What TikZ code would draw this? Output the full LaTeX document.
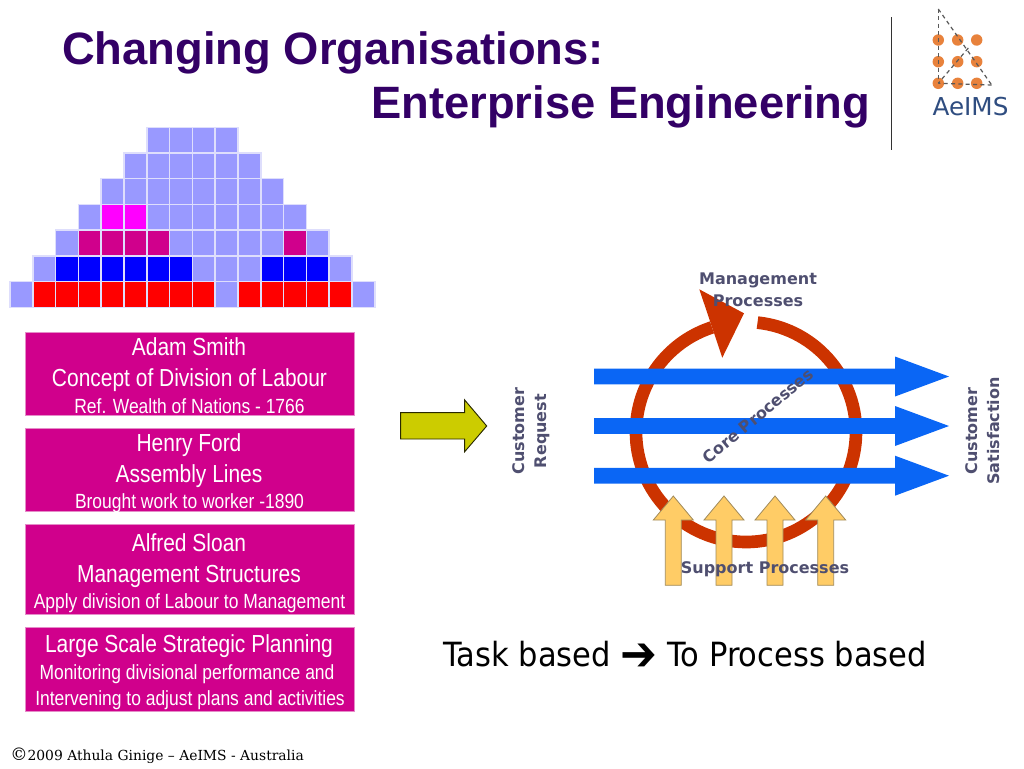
\documentclass[tikz,border=0pt]{standalone}
\usepackage{fontspec}
\setmainfont{Liberation Sans}
\newfontfamily\boxf[FakeStretch=0.85]{Liberation Sans}
\newfontfamily\labf{DejaVu Sans}
\newfontfamily\taskf[FakeStretch=0.916]{DejaVu Sans}
\newfontfamily\footf{DejaVu Serif}
\newfontfamily\logof{DejaVu Sans}
\definecolor{titlec}{HTML}{330066}
\definecolor{gridc}{HTML}{9999FF}
\definecolor{gridl}{HTML}{DEDEFC}
\definecolor{magc}{HTML}{FF00FF}
\definecolor{pinkc}{HTML}{D0008C}
\definecolor{pinkl}{HTML}{E58CC8}
\definecolor{ringc}{HTML}{CC3300}
\definecolor{bluec}{HTML}{0A66F5}
\definecolor{supc}{HTML}{FFCC66}
\definecolor{supl}{HTML}{A08A5A}
\definecolor{labc}{HTML}{4F4F70}
\definecolor{olivec}{HTML}{CCCC00}
\definecolor{dotc}{HTML}{E8823C}
\definecolor{logoc}{HTML}{2F4D80}
\tikzset{
 cell/.style={draw=gridl,line width=1.1pt,fill=#1},
 pinkbox/.style={draw=pinkl,line width=0.6pt,fill=pinkc},
 big/.style={anchor=base,text=white,inner sep=0pt,font=\boxf\fontsize{18.5}{20}\selectfont},
 small/.style={anchor=base,text=white,inner sep=0pt,font=\boxf\fontsize{15.4}{17}\selectfont},
 ttl/.style={anchor=base west,inner sep=0pt,text=titlec,font=\bfseries\fontsize{34}{36}\selectfont},
 lab/.style={inner sep=0pt,text=labc,font=\labf\bfseries\fontsize{12}{16.5}\selectfont,align=center},
 blk/.style={fill=bluec},
 sup/.style={fill=supc,draw=supl,line width=0.6pt},
 dot/.style={circle,fill=dotc,minimum size=8.6pt,inner sep=0pt},
 dsh/.style={draw=black!65,line width=0.9pt,dash pattern=on 3pt off 2.5pt},
}
\begin{document}
\begin{tikzpicture}[x=0.75pt,y=-0.75pt]
\useasboundingbox (0,0) rectangle (1024,768);
% title
\node[ttl] (t1) at (62,64) {Changing Organisations:};
\node[ttl] (t2) at (371,118) {Enterprise Engineering};
\draw[black!80,line width=0.7pt] (891,17) -- (891,150);
% logo
\coordinate (lt) at (938.3,9);
\coordinate (lr) at (991.7,85);
\coordinate (lm) at (968.3,48);
\foreach \x/\i in {938.3/a,957.7/b,976.7/c}
  \foreach \y/\j in {40/1,61.7/2,83.3/3}
    \node[dot] (d\i\j) at (\x,\y) {};
\draw[dsh] (lt) -- (da3.center);
\draw[dsh] (lt) -- (lr);
\draw[dsh] (lr) -- (da3.center);
\draw[dsh] (lm) -- (da3.center);
\node[inner sep=0pt,anchor=base,text=logoc,font=\logof\fontsize{18.5}{20}\selectfont] (logo) at (970.5,115) {AeIMS};
% grid
\foreach \r/\a/\b in {0/6/9,1/5/10,2/4/11,3/3/12,4/2/13,5/1/14,6/0/15}
  \foreach \i in {\a,...,\b}
    \draw[cell=gridc] ({10+22.8*\i},{127.3+25.72*\r}) rectangle ++(22.8,25.72);
\foreach \r/\i/\c in {3/4/magc,3/5/magc,
  4/3/pinkc,4/4/pinkc,4/5/pinkc,4/6/pinkc,4/12/pinkc,
  5/2/blue,5/3/blue,5/4/blue,5/5/blue,5/6/blue,5/7/blue,5/11/blue,5/12/blue,5/13/blue,
  6/1/red,6/2/red,6/3/red,6/4/red,6/5/red,6/6/red,6/7/red,6/8/red,
  6/10/red,6/11/red,6/12/red,6/13/red,6/14/red}
    \draw[cell=\c] ({10+22.8*\i},{127.3+25.72*\r}) rectangle ++(22.8,25.72);
% pink boxes
\draw[pinkbox] (25.7,332.3) rectangle (354,415.3);
\draw[pinkbox] (25.7,428.7) rectangle (354,511.7);
\draw[pinkbox] (25.7,524.7) rectangle (354,614.3);
\draw[pinkbox] (25.7,627.7) rectangle (354,711);
\node[big] (a1) at (189,355.3) {Adam Smith};
\node[big] (a2) at (189.5,386) {Concept of Division of Labour};
\node[small] (a3) at (189.5,413) {Ref. Wealth of Nations - 1766};
\node[big] (b1) at (189,451.7) {Henry Ford};
\node[big] (b2) at (189,482.5) {Assembly Lines};
\node[small] (b3) at (189.5,508.3) {Brought work to worker -1890};
\node[big] (c1) at (189,551.5) {Alfred Sloan};
\node[big] (c2) at (189,582.5) {Management Structures};
\node[small] (c3) at (189.5,608) {Apply division of Labour to Management};
\node[big] (e1) at (189,652.5) {Large Scale Strategic Planning};
\node[small] (e2) at (187,679.7) {Monitoring divisional performance and};
\node[small] (e3) at (190,705) {Intervening to adjust plans and activities};
% olive arrow
\draw[fill=olivec,draw=black!80!olivec,line width=0.7pt] (400.7,412.7) -- (464.7,412.7) -- (464.7,400) -- (486.7,426) -- (464.7,451.7) -- (464.7,439) -- (400.7,439) -- cycle;
% ring
\coordinate (rc) at (746,432);
\draw[ringc,line width=9.5pt] (rc) ++(84:82.5pt) arc[start angle=84,end angle=-252,radius=82.5pt];
\fill[ringc] (699.3,289.3) -- (744,313.3) -- (722.3,357.7) -- cycle;
% blue arrows
\foreach \y in {376.5,426,475.7}
  \fill[blk] (594,\y-7.8) -- (895,\y-7.8) -- (895,\y-20) -- (949,\y) -- (895,\y+20) -- (895,\y+7.8) -- (594,\y+7.8) -- cycle;
% support arrows
\foreach \x in {673.3,724,775,825.7}
  \draw[sup] (\x,496) -- (\x+20,520) -- (\x+8,520) -- (\x+8,585.3) -- (\x-8,585.3) -- (\x-8,520) -- (\x-20,520) -- cycle;
% labels
\node[lab] (mp) at (758,289.5) {Management\\Processes};
\node[lab,rotate=39.5] (cp) at (758,416) {Core Processes};
\node[lab] (sp) at (765,569) {Support Processes};
\node[lab,rotate=90] (cr) at (531,431) {Customer\\Request};
\node[lab,rotate=90] (cs) at (983,431) {Customer\\Satisfaction};
% bottom texts
\node[anchor=base west,inner sep=0pt,font=\taskf\fontsize{25}{28}\selectfont] (task) at (443,666.7) {Task based \raisebox{-3pt}{\bfseries\fontsize{36}{28}\selectfont ➔} To Process based};
\node[anchor=base west,inner sep=0pt,font=\footf\fontsize{10.4}{12}\selectfont] (foot) at (10,760) {{\fontsize{13}{12}\selectfont ©}2009 Athula Ginige – AeIMS - Australia};
\end{tikzpicture}
\end{document}
